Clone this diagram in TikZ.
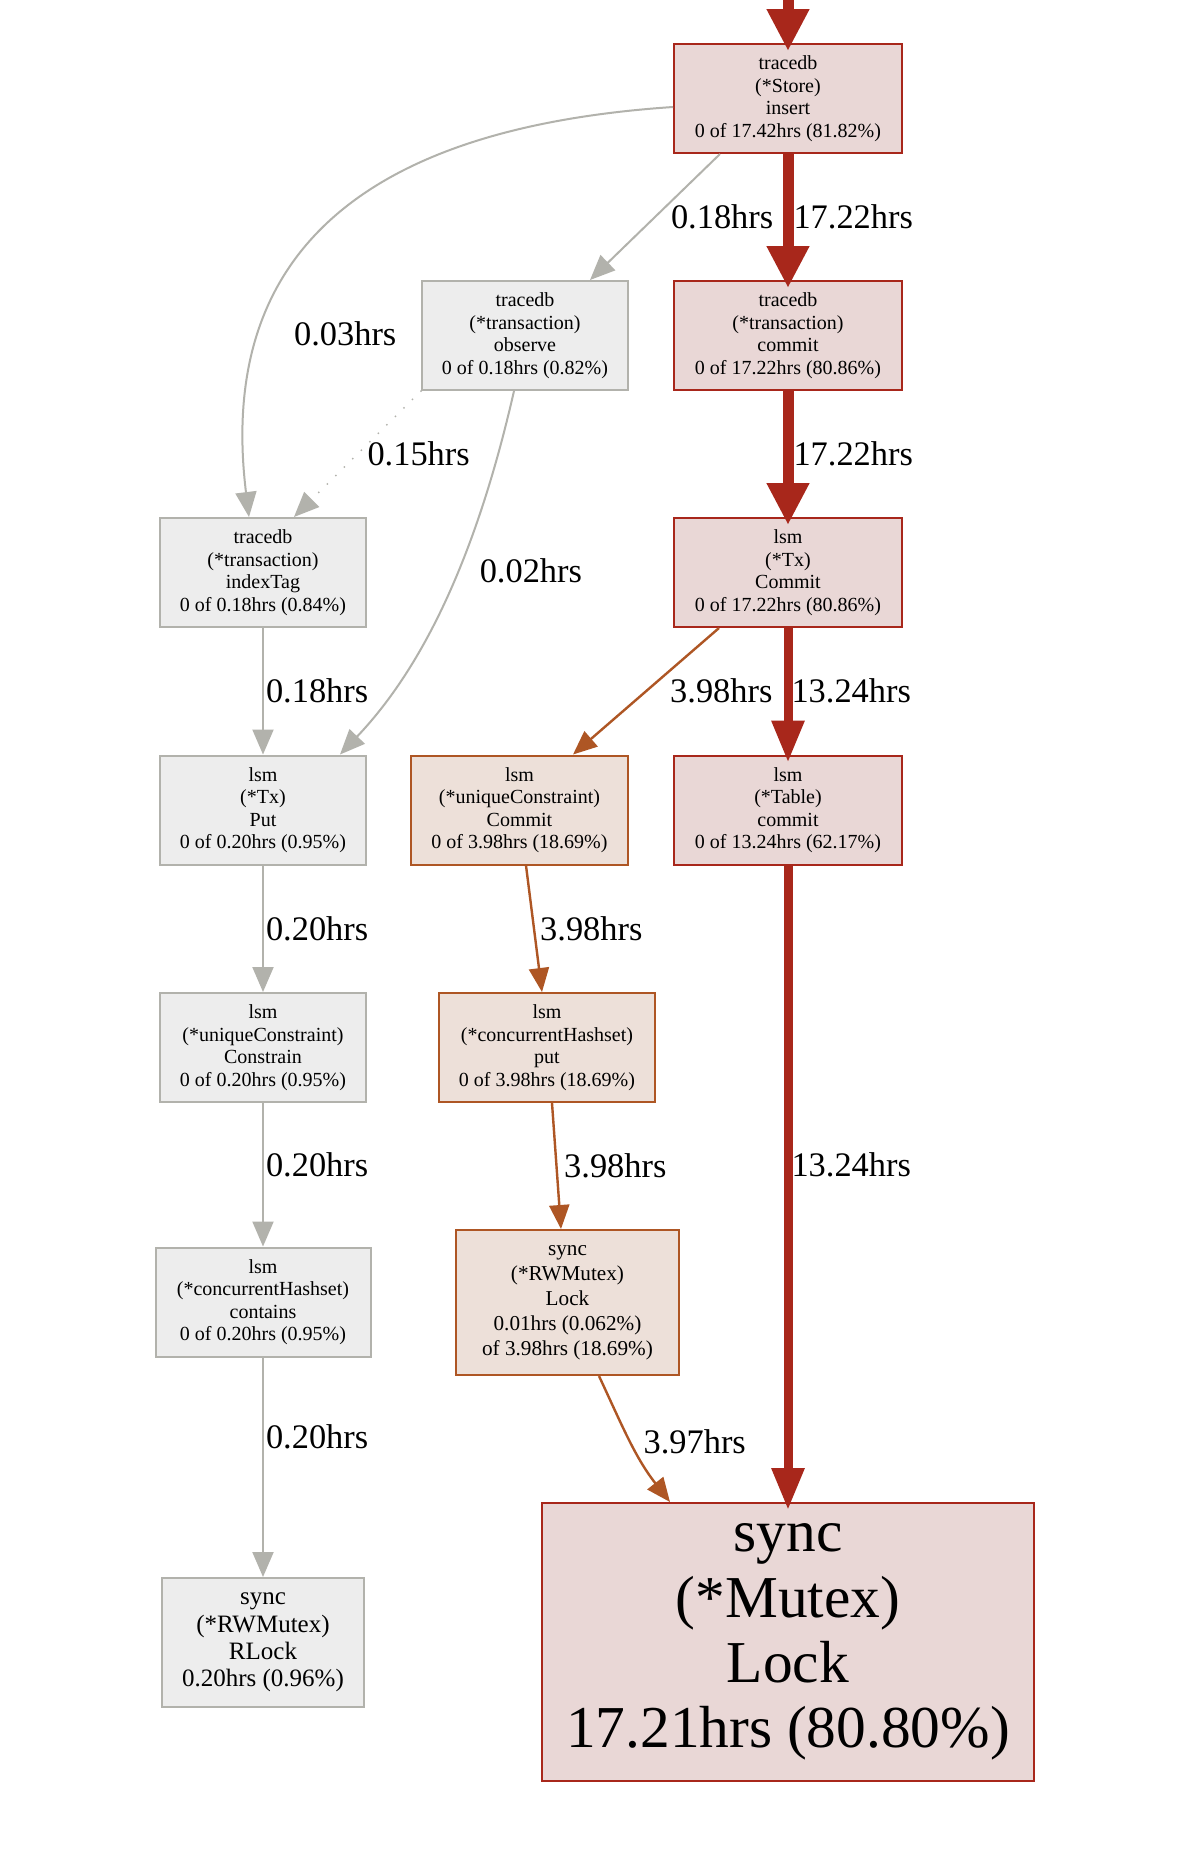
\documentclass[tikz,border=0pt]{standalone}
\usepackage{fontspec}
\setmainfont{Liberation Serif}
\usetikzlibrary{arrows.meta}

\definecolor{hotline}{HTML}{A8271B}
\definecolor{hotfill}{HTML}{E9D7D6}
\definecolor{warmline}{HTML}{AE5624}
\definecolor{warmfill}{HTML}{EDE0D9}
\definecolor{coldline}{HTML}{B2B2AC}
\definecolor{coldfill}{HTML}{EDEDED}

\begin{document}
\begin{tikzpicture}[x=0.5pt, y=-0.5pt,
      fn/.style={draw, line width=1pt, inner sep=0pt, align=center,
                 minimum height=54.5pt, font=\fontsize{10}{11.25}\selectfont},
      hot/.style={fn, draw=hotline, fill=hotfill},
      warm/.style={fn, draw=warmline, fill=warmfill},
      cold/.style={fn, draw=coldline, fill=coldfill},
      lbl/.style={inner sep=1pt, font=\fontsize{17.2}{20}\selectfont},
      fat/.style={draw=hotline, line width=5.5pt, shorten >=-4pt,
                  -{Triangle[length=21pt, width=20pt]}},
      wide/.style={fat, line width=4.5pt, -{Triangle[length=21pt, width=15.5pt]}},
      hedge/.style={draw=warmline, line width=1.2pt,
                    -{Triangle[length=12pt, width=10pt]}},
      gedge/.style={draw=coldline, line width=1pt,
                    -{Triangle[length=12.5pt, width=10.5pt]}}]
    \useasboundingbox (0,0) rectangle (1190,1858);
    \fill[white] (0,0) rectangle (1190,1858);

    \node[hot, minimum width=114pt]  (store)    at (788,98.5)   {tracedb\\(*Store)\\insert\\0 of 17.42hrs (81.82\%)};
    \node[cold, minimum width=103pt] (obs)      at (525,335.5)  {tracedb\\(*transaction)\\observe\\0 of 0.18hrs (0.82\%)};
    \node[hot, minimum width=114pt]  (txc)      at (788,335.5)  {tracedb\\(*transaction)\\commit\\0 of 17.22hrs (80.86\%)};
    \node[cold, minimum width=103pt] (itag)     at (263,572.5)  {tracedb\\(*transaction)\\indexTag\\0 of 0.18hrs (0.84\%)};
    \node[hot, minimum width=114pt]  (txcommit) at (788,572.5)  {lsm\\(*Tx)\\Commit\\0 of 17.22hrs (80.86\%)};
    \node[cold, minimum width=103pt] (put)      at (263,810)    {lsm\\(*Tx)\\Put\\0 of 0.20hrs (0.95\%)};
    \node[warm, minimum width=108.5pt] (ucc)    at (519.5,810)  {lsm\\(*uniqueConstraint)\\Commit\\0 of 3.98hrs (18.69\%)};
    \node[hot, minimum width=114pt]  (table)    at (788,810)    {lsm\\(*Table)\\commit\\0 of 13.24hrs (62.17\%)};
    \node[cold, minimum width=103pt] (constr)   at (263,1047.5) {lsm\\(*uniqueConstraint)\\Constrain\\0 of 0.20hrs (0.95\%)};
    \node[warm, minimum width=108pt] (hsput)    at (547,1047.5) {lsm\\(*concurrentHashset)\\put\\0 of 3.98hrs (18.69\%)};
    \node[cold, minimum width=107.5pt] (hscont) at (263,1302)   {lsm\\(*concurrentHashset)\\contains\\0 of 0.20hrs (0.95\%)};
    \node[warm, minimum width=111.5pt, minimum height=72.5pt,
          font=\fontsize{10.6}{12.5}\selectfont]
                                     (rwlock)   at (567.5,1302.5) {sync\\(*RWMutex)\\Lock\\0.01hrs (0.062\%)\\of 3.98hrs (18.69\%)};
    \node[cold, minimum width=101pt, minimum height=64.5pt,
          font=\fontsize{12.5}{13.6}\selectfont]
                                     (rlock)    at (263,1642.5) {sync\\(*RWMutex)\\RLock\\0.20hrs (0.96\%)};
    \node[hot, minimum width=246pt, minimum height=139pt,
          font=\fontsize{29.7}{32.6}\selectfont]
                                     (mutex)    at (788,1642)   {sync\\(*Mutex)\\Lock\\17.21hrs (80.80\%)};

    \coordinate (entry) at (788,0);
    \draw[fat] (entry) -- (store);
    \draw[fat] (store) -- node[lbl, right, xshift=-1pt]{17.22hrs} (txc);
    \draw[gedge] ([xshift=-34pt]store.south) -- node[lbl, pos=.5, anchor=west, xshift=6.5pt]{0.18hrs} ([xshift=32.5pt]obs.north);
    \draw[gedge] ([yshift=-4.25pt]store.west) .. controls (330,130) and (220,280) .. ([xshift=-7pt]itag.north)
          node[lbl, pos=.71, anchor=west, xshift=15pt]{0.03hrs};
    \draw[gedge, line cap=round, dash pattern=on 0pt off 6pt] (obs.south west) -- node[lbl, pos=.5, anchor=west, xshift=3.5pt]{0.15hrs} ([xshift=15.5pt]itag.north);
    \draw[gedge] ([xshift=-5.5pt]obs.south) .. controls (480,540) and (430,660) .. ([xshift=38.5pt]put.north)
          node[lbl, pos=.44, anchor=west, xshift=9.5pt]{0.02hrs};
    \draw[fat] (txc) -- node[lbl, right, xshift=-1pt]{17.22hrs} (txcommit);
    \draw[hedge] ([xshift=-34.5pt]txcommit.south) -- node[lbl, pos=.5, anchor=west, xshift=10.5pt]{3.98hrs} ([xshift=26.75pt]ucc.north);
    \draw[wide] (txcommit) -- node[lbl, right, xshift=-1.5pt]{13.24hrs} (table);
    \draw[gedge] (itag) -- node[lbl, right]{0.18hrs} (put);
    \draw[gedge] (put) -- node[lbl, right]{0.20hrs} (constr);
    \draw[hedge] ([xshift=3.25pt]ucc.south) -- node[lbl, pos=.5, anchor=west, xshift=1.5pt]{3.98hrs} ([xshift=-2.5pt]hsput.north);
    \draw[wide] (table) -- node[lbl, pos=.47, right, xshift=-1.5pt]{13.24hrs} (mutex);
    \draw[gedge] (constr) -- node[lbl, pos=.43, right]{0.20hrs} (hscont);
    \draw[hedge] ([xshift=2.5pt]hsput.south) -- node[lbl, pos=.5, anchor=west, xshift=2.25pt]{3.98hrs} ([xshift=-3.25pt]rwlock.north);
    \draw[gedge] (hscont) -- node[lbl, pos=.36, right]{0.20hrs} (rlock);
    \draw[hedge] ([xshift=15.75pt]rwlock.south) to[out=-65, in=128]
          node[lbl, pos=.5, anchor=west, xshift=5pt]{3.97hrs} ([xshift=-59pt]mutex.north);
  \end{tikzpicture}
\end{document}
